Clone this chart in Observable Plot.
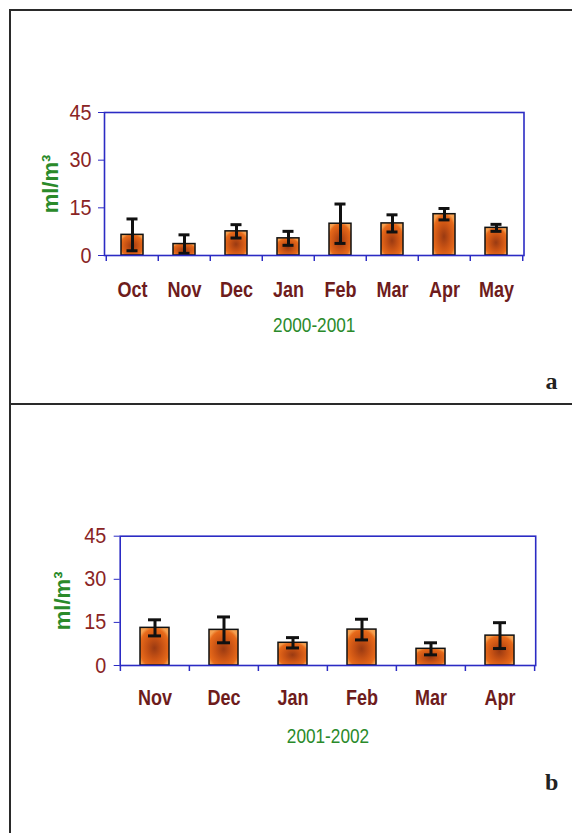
<!DOCTYPE html>
<html>
<head>
<meta charset="utf-8">
<script src="https://cdn.jsdelivr.net/npm/d3@7"></script>
<script src="https://cdn.jsdelivr.net/npm/@observablehq/plot@0.6"></script>
<style>
  html, body { margin: 0; padding: 0; background: #fff; }
  #page { position: relative; width: 572px; height: 833px; overflow: hidden; background: #fff; }
  .frame { position: absolute; left: 9px; top: 9px; width: 600px; height: 900px;
           border-left: 2px solid #2a2a2a; border-top: 2px solid #2a2a2a; }
  .sep { position: absolute; left: 9px; top: 403px; width: 600px; height: 2px; background: #2a2a2a; }
  .panel { position: absolute; left: 0; }
</style>
</head>
<body>
<div id="page">
  <div class="frame"></div>
  <div class="sep"></div>
  <div class="panel" id="pa" style="top:0px"></div>
  <div class="panel" id="pb" style="top:404px"></div>
</div>
<script>
// ---- data ----
const monthsA = ["Oct", "Nov", "Dec", "Jan", "Feb", "Mar", "Apr", "May"];
const meanA   = [6.5, 3.6, 7.6, 5.4, 10.0, 10.1, 13.0, 8.7];
const errA    = [5.0, 2.9, 2.1, 2.2, 6.2, 2.7, 1.8, 1.1];

const monthsB = ["Nov", "Dec", "Jan", "Feb", "Mar", "Apr"];
const meanB   = [13.1, 12.4, 7.9, 12.5, 5.8, 10.4];
const errB    = [2.8, 4.5, 1.8, 3.6, 2.1, 4.5];

const yTicks = [0, 15, 30, 45];
const yLabel = "ml/m³";
const captionA = "2000-2001";
const captionB = "2001-2002";
const letterA = "a";
const letterB = "b";

// ---- styles ----
const SANS = "'Liberation Sans', Arial, sans-serif";
const BLUE = "#2b2bc4";
const YCOL = "#8a2424";
const XCOL = "#6e1c1c";
const GREEN = "#2a8a2a";

// condense text horizontally (the original uses a narrow face)
function squeeze(t, s) {
  const tr = t.getAttribute("transform");
  if (tr && tr.includes("translate")) {
    t.setAttribute("transform", tr + ` scale(${s},1)`);
  } else {
    const x = +(t.getAttribute("x") || 0), y = +(t.getAttribute("y") || 0);
    t.setAttribute("transform", `translate(${x},${y}) scale(${s},1) translate(${-x},${-y})` + (tr ? " " + tr : ""));
  }
}
function condense(svg, skip) {
  d3.select(svg).selectAll("text").each(function () {
    if (skip.includes(this.textContent)) return;
    const isY = this.closest('g[aria-label="y-axis tick label"]') !== null;
    squeeze(this, isY ? 0.9 : 0.82);
  });
}

function panel(cfg) {
  const data = cfg.months.map((m, i) => ({m, v: cfg.mean[i], e: cfg.err[i]}));
  const step = (cfg.width - cfg.ml - cfg.mr) / cfg.months.length;
  const gid = cfg.gid;
  const svg = Plot.plot({
    width: cfg.width, height: cfg.height,
    marginTop: cfg.mt, marginBottom: cfg.mb, marginLeft: cfg.ml, marginRight: cfg.mr,
    style: {fontFamily: SANS, background: "transparent", overflow: "visible"},
    x: {domain: cfg.months, paddingInner: 0.58, paddingOuter: 0.29, axis: null},
    y: {domain: [0, 45], axis: null},
    marks: [
      Plot.barY(data, {x: "m", y: "v", fill: `url(#${gid})`, stroke: "#111", strokeWidth: 1.5}),
      Plot.ruleX(data, {x: "m", y1: d => d.v - d.e, y2: d => d.v + d.e, stroke: "#111", strokeWidth: 3}),
      Plot.tickY(data, {x: "m", y: d => d.v + d.e, stroke: "#111", strokeWidth: 3, insetLeft: cfg.capInset, insetRight: cfg.capInset}),
      Plot.tickY(data, {x: "m", y: d => d.v - d.e, stroke: "#111", strokeWidth: 3, insetLeft: cfg.capInset, insetRight: cfg.capInset}),
      Plot.frame({stroke: BLUE, strokeWidth: 1.6}),
      Plot.ruleX(cfg.months, {x: d => d, y1: 0, y2: 0, dx: -step / 2, insetBottom: -6, stroke: BLUE, strokeWidth: 1.5}),
      Plot.ruleX(cfg.months.slice(-1), {x: d => d, y1: 0, y2: 0, dx: step / 2, insetBottom: -6, stroke: BLUE, strokeWidth: 1.5}),
      Plot.axisY({ticks: yTicks, tickSize: 6, tickPadding: cfg.yPad, stroke: BLUE, fill: YCOL, fontSize: 22, label: null}),
      Plot.axisX({tickSize: 0, tickPadding: cfg.xPad, fill: XCOL, fontSize: 22, fontWeight: "bold", label: null}),
      Plot.text([yLabel], {frameAnchor: "left", textAnchor: "middle", lineAnchor: "middle", rotate: -90, dx: cfg.ylDx, fill: GREEN, fontSize: 22, fontWeight: "bold"}),
      Plot.text([cfg.caption], {frameAnchor: "bottom", textAnchor: "middle", lineAnchor: "middle", dy: cfg.capDy, fill: GREEN, fontSize: 21}),
      Plot.text([cfg.letter], {frameAnchor: "bottom-right", textAnchor: "middle", lineAnchor: "middle", dx: cfg.letDx, dy: cfg.letDy, fill: "#222", fontSize: 24, fontWeight: "bold", fontFamily: "'Liberation Serif', 'Times New Roman', serif"})
    ]
  });
  condense(svg, [cfg.letter, yLabel]);
  const defs = d3.select(svg).insert("defs", ":first-child");
  const g = defs.append("radialGradient").attr("id", gid).attr("cx", "50%").attr("cy", "55%").attr("r", "60%");
  g.append("stop").attr("offset", "0%").attr("stop-color", "#9a3a12");
  g.append("stop").attr("offset", "45%").attr("stop-color", "#c85214");
  g.append("stop").attr("offset", "85%").attr("stop-color", "#e86a1a");
  g.append("stop").attr("offset", "100%").attr("stop-color", "#f5a050");
  return svg;
}

document.getElementById("pa").appendChild(panel({
  months: monthsA, mean: meanA, err: errA, gid: "gradA",
  width: 572, height: 404, mt: 112, mb: 149, ml: 104, mr: 48.5,
  capInset: 5.5, yPad: 7, xPad: 26, ylDx: -54,
  caption: captionA, capDy: 70, letter: letterA, letDx: 27.5, letDy: 126
}));

document.getElementById("pb").appendChild(panel({
  months: monthsB, mean: meanB, err: errB, gid: "gradB",
  width: 572, height: 429, mt: 131.7, mb: 168, ml: 119.7, mr: 36.8,
  capInset: 8, yPad: 8, xPad: 24, ylDx: -57,
  caption: captionB, capDy: 71, letter: letterB, letDx: 16, letDy: 117
}));
</script>
</body>
</html>
